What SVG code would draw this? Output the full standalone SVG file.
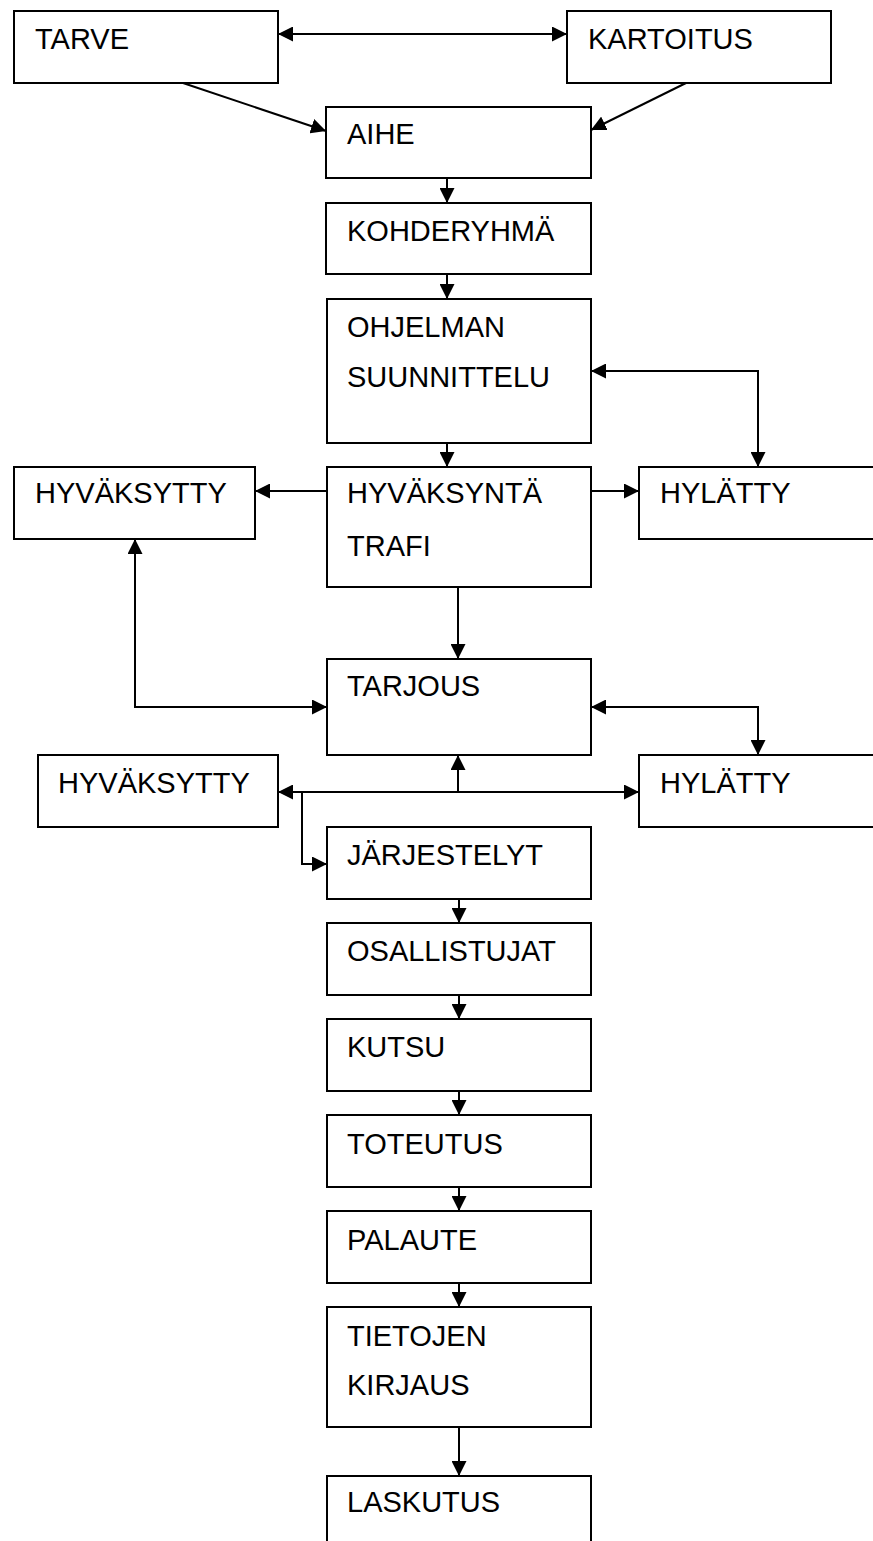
<svg xmlns="http://www.w3.org/2000/svg" width="873" height="1541" viewBox="0 0 873 1541">
<style>
rect, .box { fill: #ffffff; stroke: #000000; stroke-width: 2; }
.open { fill: none; stroke: #000000; stroke-width: 2; }
text { font-family: "Liberation Sans", Arial, sans-serif; font-size: 29px; fill: #000000; }
.c { fill: none; stroke: #000000; stroke-width: 2; }
</style>
<defs>
<marker id="ah" markerUnits="userSpaceOnUse" markerWidth="15" markerHeight="15" refX="14" refY="7" orient="auto-start-reverse" viewBox="0 0 14 14">
<path d="M0,0 L14,7 L0,14 z" fill="#000000"/>
</marker>
</defs>
<rect x="0" y="0" width="873" height="1541" style="fill:#ffffff;stroke:none"/>
<g id="n-tarve"><rect x="14" y="11" width="264" height="72"/><text x="35" y="49">TARVE</text></g>
<g id="n-kartoitus"><rect x="567" y="11" width="264" height="72"/><text x="588" y="49">KARTOITUS</text></g>
<g id="n-aihe"><rect x="326" y="107" width="265" height="71"/><text x="347" y="144">AIHE</text></g>
<g id="n-kohderyhma"><rect x="326" y="203" width="265" height="71"/><text x="347" y="241">KOHDERYHMÄ</text></g>
<g id="n-ohjelman"><rect x="327" y="299" width="264" height="144"/><text x="347" y="337">OHJELMAN</text><text x="347" y="387">SUUNNITTELU</text></g>
<g id="n-hyvaksynta"><rect x="327" y="467" width="264" height="120"/><text x="347" y="503">HYVÄKSYNTÄ</text><text x="347" y="556">TRAFI</text></g>
<g id="n-hyvaksytty1"><rect x="14" y="467" width="241" height="72"/><text x="35" y="503">HYVÄKSYTTY</text></g>
<g id="n-hylatty1"><rect x="639" y="467" width="250" height="72"/><text x="660" y="503">HYLÄTTY</text></g>
<g id="n-tarjous"><rect x="327" y="659" width="264" height="96"/><text x="347" y="696">TARJOUS</text></g>
<g id="n-hyvaksytty2"><rect x="38" y="755" width="240" height="72"/><text x="58" y="793">HYVÄKSYTTY</text></g>
<g id="n-hylatty2"><rect x="639" y="755" width="250" height="72"/><text x="660" y="793">HYLÄTTY</text></g>
<g id="n-jarjestelyt"><rect x="327" y="827" width="264" height="72"/><text x="347" y="865">JÄRJESTELYT</text></g>
<g id="n-osallistujat"><rect x="327" y="923" width="264" height="72"/><text x="347" y="961">OSALLISTUJAT</text></g>
<g id="n-kutsu"><rect x="327" y="1019" width="264" height="72"/><text x="347" y="1057">KUTSU</text></g>
<g id="n-toteutus"><rect x="327" y="1115" width="264" height="72"/><text x="347" y="1154">TOTEUTUS</text></g>
<g id="n-palaute"><rect x="327" y="1211" width="264" height="72"/><text x="347" y="1250">PALAUTE</text></g>
<g id="n-tietojen"><rect x="327" y="1307" width="264" height="120"/><text x="347" y="1346">TIETOJEN</text><text x="347" y="1395">KIRJAUS</text></g>
<g id="n-laskutus"><path class="open" d="M327,1545 V1476 H591 V1545"/><text x="347" y="1512">LASKUTUS</text></g>
<g id="connectors">
<line class="c" x1="278" y1="34" x2="567" y2="34" marker-start="url(#ah)" marker-end="url(#ah)"/>
<line class="c" x1="183" y1="83" x2="326" y2="131" marker-end="url(#ah)"/>
<line class="c" x1="686" y1="83" x2="591" y2="130" marker-end="url(#ah)"/>
<line class="c" x1="447" y1="178" x2="447" y2="203" marker-end="url(#ah)"/>
<line class="c" x1="447" y1="274" x2="447" y2="299" marker-end="url(#ah)"/>
<path class="c" d="M591,371 H758 V467" marker-start="url(#ah)" marker-end="url(#ah)"/>
<line class="c" x1="447" y1="443" x2="447" y2="467" marker-end="url(#ah)"/>
<line class="c" x1="327" y1="491" x2="255" y2="491" marker-end="url(#ah)"/>
<line class="c" x1="591" y1="491" x2="639" y2="491" marker-end="url(#ah)"/>
<line class="c" x1="458" y1="587" x2="458" y2="659" marker-end="url(#ah)"/>
<path class="c" d="M327,707 H135 V539" marker-start="url(#ah)" marker-end="url(#ah)"/>
<path class="c" d="M591,707 H758 V755" marker-start="url(#ah)" marker-end="url(#ah)"/>
<line class="c" x1="278" y1="792" x2="639" y2="792" marker-start="url(#ah)" marker-end="url(#ah)"/>
<line class="c" x1="458" y1="792" x2="458" y2="755" marker-end="url(#ah)"/>
<path class="c" d="M302,792 V864 H327" marker-end="url(#ah)"/>
<line class="c" x1="459" y1="899" x2="459" y2="923" marker-end="url(#ah)"/>
<line class="c" x1="459" y1="995" x2="459" y2="1019" marker-end="url(#ah)"/>
<line class="c" x1="459" y1="1091" x2="459" y2="1115" marker-end="url(#ah)"/>
<line class="c" x1="459" y1="1187" x2="459" y2="1211" marker-end="url(#ah)"/>
<line class="c" x1="459" y1="1283" x2="459" y2="1307" marker-end="url(#ah)"/>
<line class="c" x1="459" y1="1427" x2="459" y2="1476" marker-end="url(#ah)"/>
</g>
</svg>
